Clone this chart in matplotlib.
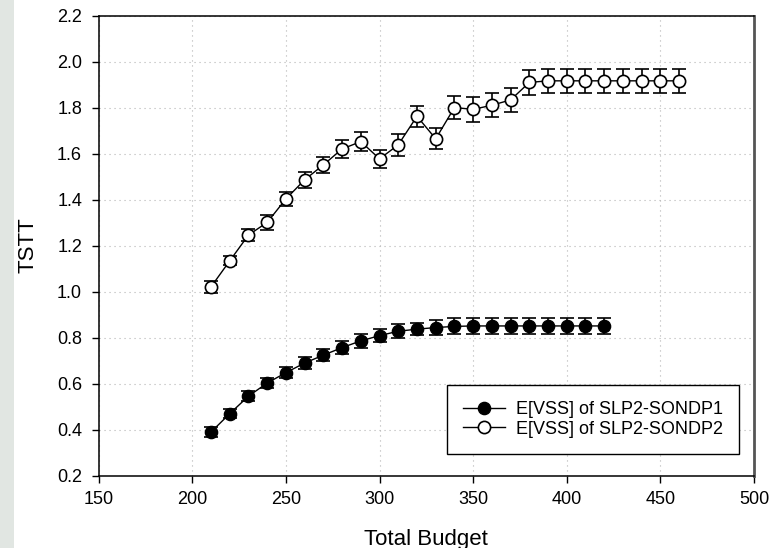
import matplotlib
matplotlib.use("Agg")
import matplotlib.pyplot as plt
from matplotlib.patches import Rectangle

plt.rcParams['font.family'] = ['Liberation Sans', 'DejaVu Sans']

budget1 = [210, 220, 230, 240, 250, 260, 270, 280, 290, 300, 310, 320, 330,
           340, 350, 360, 370, 380, 390, 400, 410, 420]
vss1 = [0.391, 0.471, 0.547, 0.604, 0.649, 0.691, 0.725, 0.758, 0.787, 0.810,
        0.829, 0.838, 0.845, 0.850, 0.852, 0.852, 0.852, 0.852, 0.852, 0.852,
        0.852, 0.852]
err1 = [0.020, 0.020, 0.023, 0.023, 0.024, 0.025, 0.027, 0.028, 0.029, 0.027,
        0.030, 0.027, 0.032, 0.035, 0.035, 0.035, 0.035, 0.035, 0.035, 0.035,
        0.035, 0.035]

budget2 = [210, 220, 230, 240, 250, 260, 270, 280, 290, 300, 310, 320, 330,
           340, 350, 360, 370, 380, 390, 400, 410, 420, 430, 440, 450, 460]
vss2 = [1.022, 1.135, 1.247, 1.302, 1.404, 1.487, 1.552, 1.621, 1.653, 1.578,
        1.639, 1.763, 1.665, 1.801, 1.793, 1.811, 1.834, 1.910, 1.917, 1.917,
        1.917, 1.917, 1.917, 1.917, 1.917, 1.917]
err2 = [0.025, 0.020, 0.025, 0.032, 0.030, 0.035, 0.035, 0.038, 0.040, 0.040,
        0.048, 0.046, 0.046, 0.050, 0.054, 0.052, 0.052, 0.054, 0.052, 0.052,
        0.052, 0.052, 0.052, 0.052, 0.052, 0.052]

label1 = "E[VSS] of SLP2-SONDP1"
label2 = "E[VSS] of SLP2-SONDP2"
xticks = [150, 200, 250, 300, 350, 400, 450, 500]
yticks = [0.2, 0.4, 0.6, 0.8, 1.0, 1.2, 1.4, 1.6, 1.8, 2.0, 2.2]

fig = plt.figure(figsize=(7.72, 5.48), dpi=100)
fig.patches.append(Rectangle((0, 0), 14 / 772, 1, transform=fig.transFigure,
                             facecolor='#e1e6e2', edgecolor='none', zorder=0))
ax = fig.add_axes([98.7 / 772, (548 - 476) / 548, (754 - 98.7) / 772, (476 - 15.7) / 548])

ms = 8.8
ax.errorbar(budget1, vss1, yerr=err1, fmt='-o', color='black', mfc='black', mec='black',
            ms=ms, lw=1.0, elinewidth=1.2, capsize=4.7, capthick=1.2, label=label1, zorder=3)
ax.errorbar(budget2, vss2, yerr=err2, fmt='-o', color='black', mfc='white', mec='black',
            ms=ms, mew=1.2, lw=1.0, elinewidth=1.2, capsize=4.7, capthick=1.2, label=label2, zorder=3)

ax.set_xlim(150, 500)
ax.set_ylim(0.2, 2.2)
ax.set_xticks(xticks)
ax.set_yticks(yticks)
ax.set_yticklabels([f"{v:.1f}" for v in yticks])
ax.grid(True, linestyle=(0, (1, 3.5)), color='#b5b5b5', linewidth=0.8)
ax.set_axisbelow(True)
ax.tick_params(direction='out', length=5, width=1.0, labelsize=13, colors='black')
ax.tick_params(axis='x', pad=6)
ax.tick_params(axis='y', pad=7)
for s in ['left', 'bottom', 'top']:
    ax.spines[s].set_linewidth(1.1)
    ax.spines[s].set_color('black')
ax.spines['right'].set_linewidth(2.0)
ax.spines['right'].set_color('#555555')

fig.text(426 / 772, (548 - 545) / 548, "Total Budget", fontsize=16,
         ha='center', va='baseline')
fig.text(28 / 772, (548 - 245) / 548, "TSTT", fontsize=16, rotation=90,
         ha='center', va='center')

handles, labels = ax.get_legend_handles_labels()
handles = [h[0] for h in handles]
leg = ax.legend(handles, labels, loc='lower right', bbox_to_anchor=(0.977, 0.048),
                fontsize=13, frameon=True, fancybox=False, edgecolor='black',
                framealpha=1, handlelength=2.3, borderpad=0.9, labelspacing=0.12,
                handletextpad=0.6, borderaxespad=0)
leg.get_frame().set_linewidth(1.0)

fig.savefig("out.png", dpi=100)
